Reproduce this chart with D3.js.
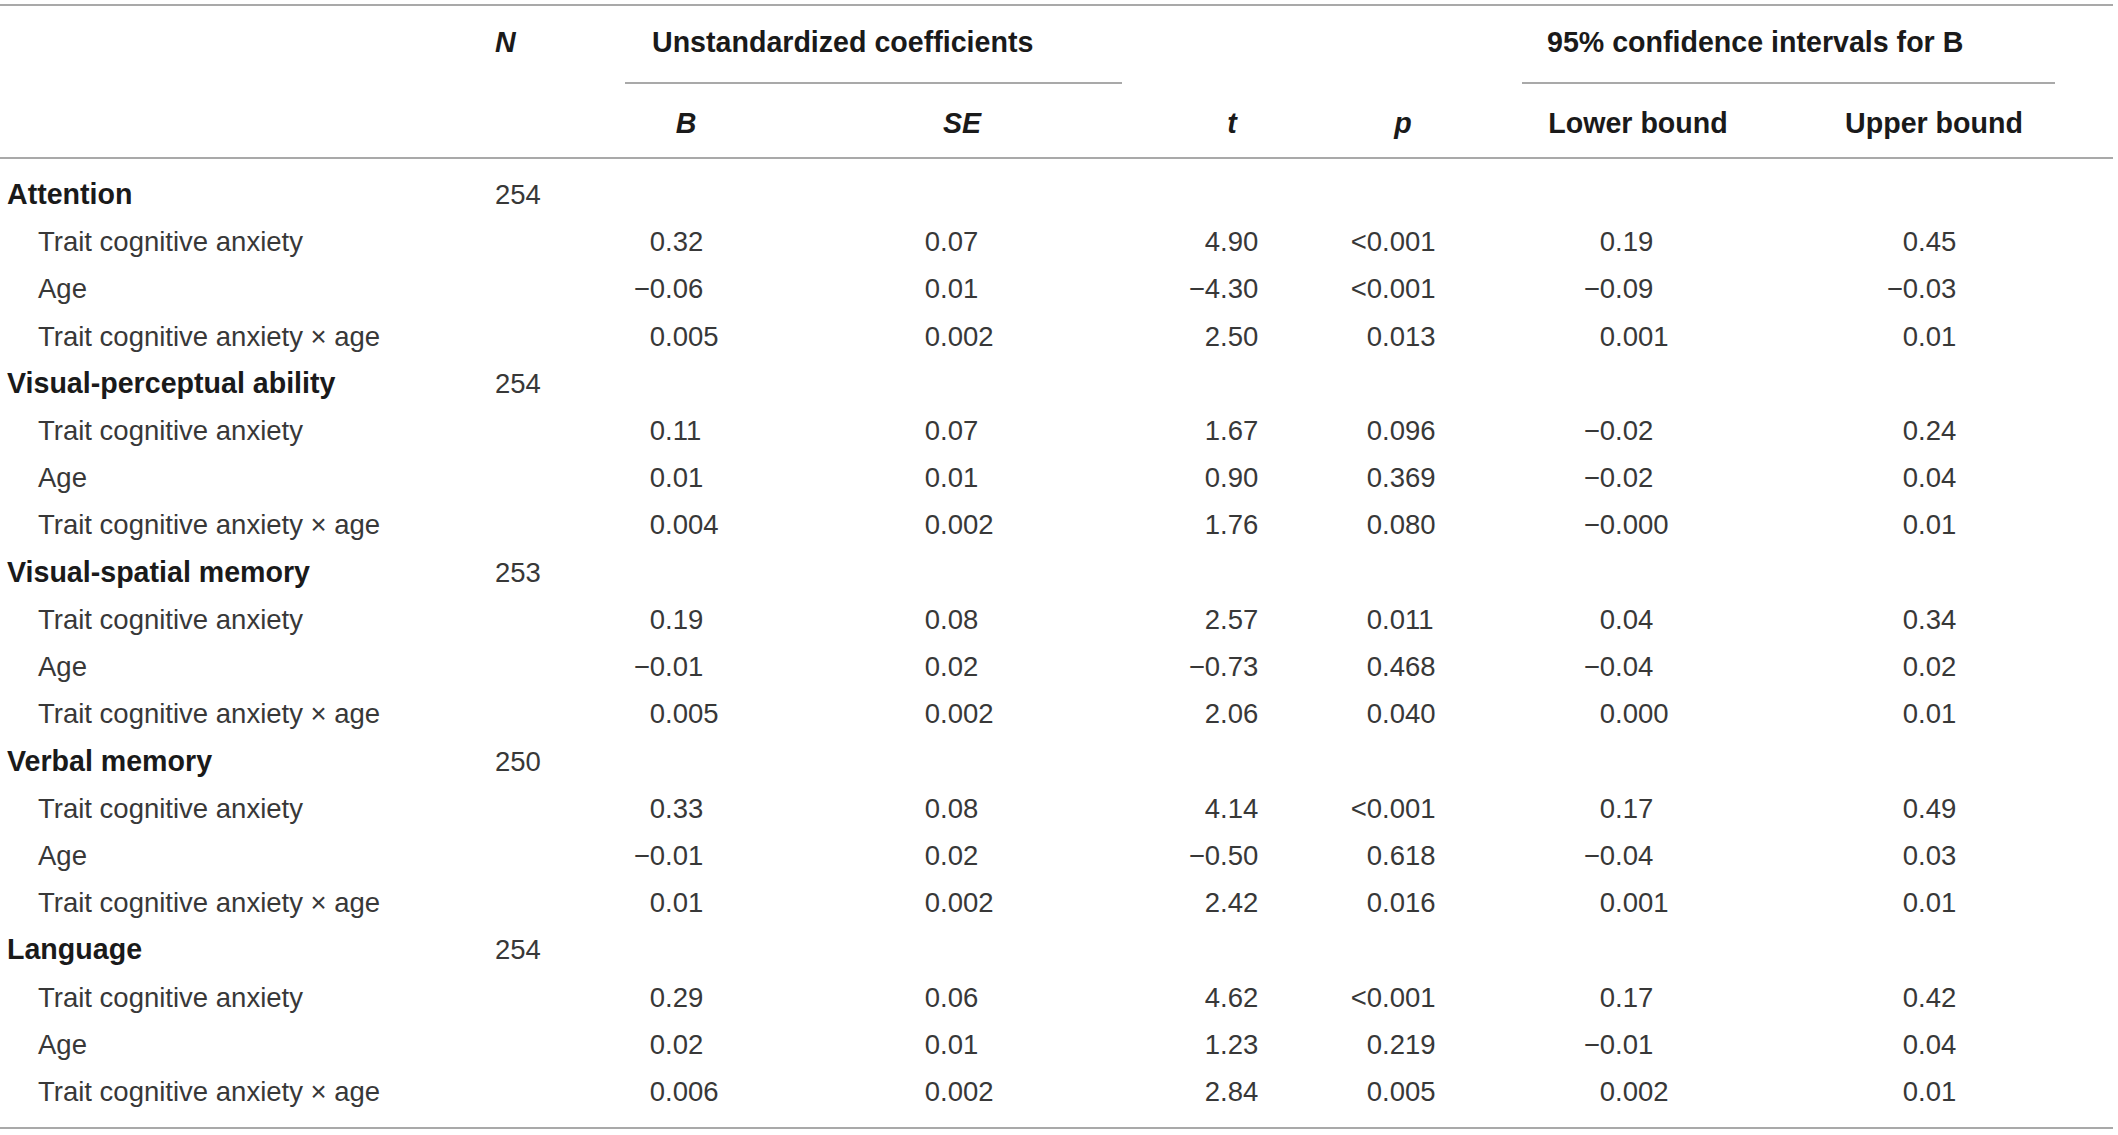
<!DOCTYPE html>
<html>
<head>
<meta charset="utf-8">
<script src="https://cdn.jsdelivr.net/npm/d3@7"></script>
<style>
  html, body { margin: 0; padding: 0; background: #fff; }
  svg { display: block; }
  text { font-family: "Liberation Sans", Arial, Helvetica, sans-serif; }
  .head { font-weight: bold; font-size: 28.6px; fill: #1a1a1a; }
  .ital { font-style: italic; }
  .cell { font-size: 27.5px; fill: #383838; }
  .rule { stroke: #8c8c8c; stroke-width: 1.6; }
</style>
</head>
<body>
<div id="chart"></div>
<script>
var width = 2118;
var height = 1135;

// table content
var outcomes = ["Attention", "Visual-perceptual ability", "Visual-spatial memory", "Verbal memory", "Language"];
var sampleN = [254, 254, 253, 250, 254];
var predictors = ["Trait cognitive anxiety", "Age", "Trait cognitive anxiety \u00d7 age"];

var coefB = [
    ["0.32", "\u22120.06", "0.005"],
    ["0.11", "0.01", "0.004"],
    ["0.19", "\u22120.01", "0.005"],
    ["0.33", "\u22120.01", "0.01"],
    ["0.29", "0.02", "0.006"]
];
var coefSE = [
    ["0.07", "0.01", "0.002"],
    ["0.07", "0.01", "0.002"],
    ["0.08", "0.02", "0.002"],
    ["0.08", "0.02", "0.002"],
    ["0.06", "0.01", "0.002"]
];
var tValues = [
    ["4.90", "\u22124.30", "2.50"],
    ["1.67", "0.90", "1.76"],
    ["2.57", "\u22120.73", "2.06"],
    ["4.14", "\u22120.50", "2.42"],
    ["4.62", "1.23", "2.84"]
];
var pValues = [
    ["<0.001", "<0.001", "0.013"],
    ["0.096", "0.369", "0.080"],
    ["0.011", "0.468", "0.040"],
    ["<0.001", "0.618", "0.016"],
    ["<0.001", "0.219", "0.005"]
];
var lowerCI = [
    ["0.19", "\u22120.09", "0.001"],
    ["\u22120.02", "\u22120.02", "\u22120.000"],
    ["0.04", "\u22120.04", "0.000"],
    ["0.17", "\u22120.04", "0.001"],
    ["0.17", "\u22120.01", "0.002"]
];
var upperCI = [
    ["0.45", "\u22120.03", "0.01"],
    ["0.24", "0.04", "0.01"],
    ["0.34", "0.02", "0.01"],
    ["0.49", "0.03", "0.01"],
    ["0.42", "0.04", "0.01"]
];

var columnKeys = ["B", "SE", "t", "p", "Lower bound", "Upper bound"];
var columnData = [coefB, coefSE, tValues, pValues, lowerCI, upperCI];
var columnItalic = [true, true, true, true, false, false];
var spanners = [
    { label: "Unstandardized coefficients", from: "B", to: "SE" },
    { label: "95% confidence intervals for B", from: "Lower bound", to: "Upper bound" }
];

/**
 * Flattens the arrays into one list of table rows,
 * a bold outcome row followed by its three predictors.
 */
function buildRows() {
    var rows = [];
    for (var i = 0; i < outcomes.length; i++) {
        rows.push({ group: true, label: outcomes[i], n: sampleN[i] });
        for (var j = 0; j < predictors.length; j++) {
            rows.push({
                group: false,
                label: predictors[j],
                cells: columnData.map(function (col) { return col[i][j]; })
            });
        }
    }
    return rows;
}

var rows = buildRows();

// row baselines
var y = d3.scaleLinear().domain([0, rows.length - 1]).range([204, 1101]);
// decimal point of each numeric column
var xDot = d3.scaleOrdinal().domain(columnKeys).range([665, 940, 1220, 1382, 1615, 1918]);
// header centres of each numeric column
var xHead = d3.scaleOrdinal().domain(columnKeys).range([686, 962, 1232, 1403, 1638, 1934]);
var xGroup = 7, xPredictor = 38, xN = 495;

var svg = d3.select("#chart")
    .append("svg")
    .attr("width", width)
    .attr("height", height);

svg.append("rect").attr("width", width).attr("height", height).attr("fill", "#fff");

// horizontal rules
var rules = [
    { x1: 0, x2: 2113, y: 5 },
    { x1: 0, x2: 2113, y: 158 },
    { x1: 0, x2: 2113, y: 1128 },
    { x1: 625, x2: 1122, y: 83 },
    { x1: 1522, x2: 2055, y: 83 }
];
svg.selectAll("line.rule")
    .data(rules)
    .enter()
    .append("line")
    .attr("class", "rule")
    .attr("x1", function (d) { return d.x1; })
    .attr("x2", function (d) { return d.x2; })
    .attr("y1", function (d) { return d.y; })
    .attr("y2", function (d) { return d.y; });

// header, first line
svg.append("text")
    .attr("class", "head ital")
    .attr("x", xN)
    .attr("y", 52)
    .text("N");

svg.selectAll("text.spanner")
    .data(spanners)
    .enter()
    .append("text")
    .attr("class", "head spanner")
    .attr("x", function (d, i) { return i === 0 ? 652 : 1547; })
    .attr("y", 52)
    .text(function (d) { return d.label; });

// header, second line
svg.selectAll("text.colhead")
    .data(columnKeys)
    .enter()
    .append("text")
    .attr("class", function (d, i) { return "head colhead" + (columnItalic[i] ? " ital" : ""); })
    .attr("x", function (d) { return xHead(d); })
    .attr("y", 133)
    .attr("text-anchor", "middle")
    .text(function (d) { return d; });

// body rows
var rowG = svg.selectAll("g.row")
    .data(rows)
    .enter()
    .append("g")
    .attr("class", "row")
    .attr("transform", function (d, i) { return "translate(0," + y(i) + ")"; });

rowG.append("text")
    .attr("class", function (d) { return d.group ? "head" : "cell"; })
    .attr("x", function (d) { return d.group ? xGroup : xPredictor; })
    .text(function (d) { return d.label; });

rowG.filter(function (d) { return d.group; })
    .append("text")
    .attr("class", "cell")
    .attr("x", xN)
    .text(function (d) { return d.n; });

// numbers are aligned on the decimal point
rowG.filter(function (d) { return !d.group; }).each(function (d) {
    var g = d3.select(this);
    d.cells.forEach(function (val, k) {
        var dot = val.indexOf(".");
        var left = dot < 0 ? val : val.slice(0, dot);
        var right = dot < 0 ? "" : val.slice(dot);
        g.append("text")
            .attr("class", "cell")
            .attr("x", xDot(columnKeys[k]))
            .attr("text-anchor", "end")
            .text(left);
        g.append("text")
            .attr("class", "cell")
            .attr("x", xDot(columnKeys[k]))
            .text(right);
    });
});
</script>
</body>
</html>
